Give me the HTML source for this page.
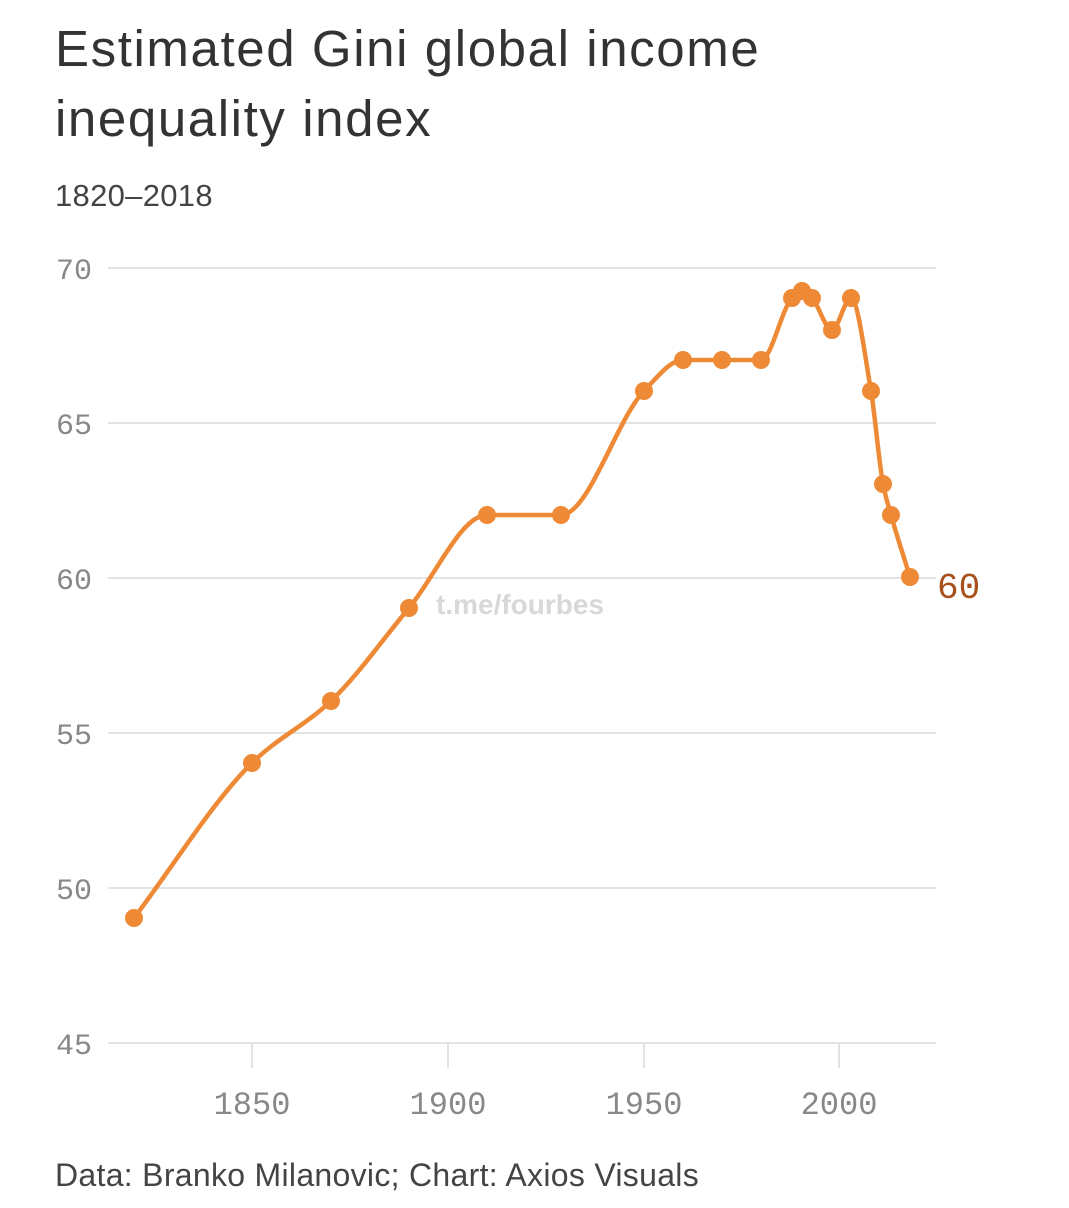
<!DOCTYPE html>
<html><head><meta charset="utf-8"><style>
body{margin:0;background:#fff;width:1069px;height:1208px;overflow:hidden;font-family:"Liberation Sans",sans-serif}
.t{position:absolute;left:55px;top:14px;font-size:51px;line-height:70px;color:#333;letter-spacing:1.6px}
.s{position:absolute;left:55px;top:178px;font-size:31px;color:#444;letter-spacing:0.3px}
.f{position:absolute;left:55px;top:1157px;font-size:32px;color:#444;letter-spacing:0.3px}
svg{position:absolute;left:0;top:0}
</style></head><body>
<div class="t">Estimated Gini global income<br>inequality index</div>
<div class="s">1820–2018</div>
<svg width="1069" height="1208" id="c">
<g stroke="#e3e3e3" stroke-width="2">
<line x1="108" x2="936" y1="268" y2="268"/><line x1="108" x2="936" y1="423" y2="423"/>
<line x1="108" x2="936" y1="578" y2="578"/><line x1="108" x2="936" y1="733" y2="733"/>
<line x1="108" x2="936" y1="888" y2="888"/><line x1="108" x2="936" y1="1043" y2="1043"/>
<line x1="252" x2="252" y1="1043" y2="1068"/><line x1="448" x2="448" y1="1043" y2="1068"/>
<line x1="644" x2="644" y1="1043" y2="1068"/><line x1="839" x2="839" y1="1043" y2="1068"/>
</g>
<g font-family="Liberation Mono,monospace" font-size="30" fill="#888">
<text x="56" y="279">70</text><text x="56" y="434">65</text><text x="56" y="589">60</text>
<text x="56" y="744">55</text><text x="56" y="899">50</text><text x="56" y="1054">45</text>
<text x="252" y="1114" text-anchor="middle" font-size="32">1850</text><text x="448" y="1114" text-anchor="middle" font-size="32">1900</text>
<text x="644" y="1114" text-anchor="middle" font-size="32">1950</text><text x="839" y="1114" text-anchor="middle" font-size="32">2000</text>
</g>
<text x="436" y="614" font-size="28" fill="#d8d8d8" font-weight="bold">t.me/fourbes</text>
<path id="ln" fill="none" stroke="#ee8a35" stroke-width="4.5"/>
<g id="dots" fill="#ee8a35"></g>
<text x="937" y="598" font-family="Liberation Mono,monospace" font-size="36" fill="#a8501c">60</text>
</svg>
<div class="f">Data: Branko Milanovic; Chart: Axios Visuals</div>
<script>
var p=[[134,918],[252,763],[331,701],[409,608],[487,515],[561,515],[644,391],[683,360],[722,360],[761,360],[792,298],[802,291],[812,298],[832,330],[851,298],[871,391],[883,484],[891,515],[910,577]];
var n=p.length,d=[],m=[];
for(var i=0;i<n-1;i++)d.push((p[i+1][1]-p[i][1])/(p[i+1][0]-p[i][0]));
m[0]=d[0];m[n-1]=d[n-2];
for(var i=1;i<n-1;i++){if(d[i-1]*d[i]<=0)m[i]=0;else m[i]=2/(1/d[i-1]+1/d[i]);}
var s="M"+p[0][0]+","+p[0][1];
for(var i=0;i<n-1;i++){var h=(p[i+1][0]-p[i][0])/3;
s+="C"+(p[i][0]+h)+","+(p[i][1]+m[i]*h)+" "+(p[i+1][0]-h)+","+(p[i+1][1]-m[i+1]*h)+" "+p[i+1][0]+","+p[i+1][1];}
document.getElementById("ln").setAttribute("d",s);
var g=document.getElementById("dots"),h="";
p.forEach(function(q){h+='<circle cx="'+q[0]+'" cy="'+q[1]+'" r="9"/>';});
g.innerHTML=h;
</script>
</body></html>
